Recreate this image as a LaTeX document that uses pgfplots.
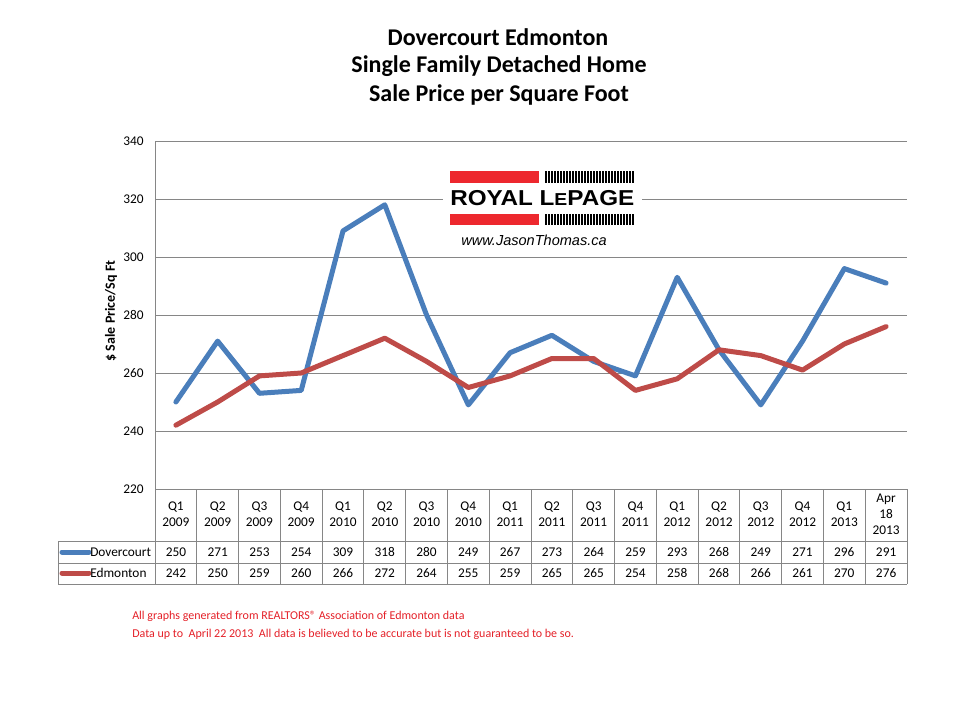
\documentclass[border=0pt]{standalone}
\usepackage{graphicx}
\usepackage{pgfplots}
\pgfplotsset{compat=1.18}
\usepackage{fontspec}
\setmainfont{Carlito}
\newfontfamily\arialfont{Liberation Sans}
\definecolor{dblue}{RGB}{74,126,187}
\definecolor{dred}{RGB}{190,75,72}
\definecolor{gridgray}{RGB}{134,134,134}
\definecolor{fnred}{RGB}{228,32,40}
\definecolor{logored}{RGB}{237,40,46}
\begin{document}
\begin{tikzpicture}
\begin{scope}[x=0.75pt,y=-0.75pt]
\path[use as bounding box] (0,0) rectangle (960,720);
\end{scope}
\begin{axis}[at={(116.25pt,-366.75pt)}, anchor=south west, scale only axis,
  width=564pt, height=261pt, xmin=-0.5, xmax=17.5, ymin=220, ymax=340,
  ytick={220,240,...,340}, xtick=\empty, ymajorgrids,
  grid style={gridgray, line width=0.75pt},
  axis x line=bottom, axis y line=left,
  axis line style={-, gridgray, line width=0.75pt},
  major tick length=0pt,
  yticklabel style={font=\fontsize{10}{12}\selectfont, xshift=-5pt},
  /pgf/number format/assume math mode=true, clip=false]
\addplot[dblue, line width=3.75pt, line join=round, line cap=round] coordinates {
(0,250) (1,271) (2,253) (3,254) (4,309) (5,318) (6,280) (7,249) (8,267)
(9,273) (10,264) (11,259) (12,293) (13,268) (14,249) (15,271) (16,296) (17,291)};
\addplot[dred, line width=3.75pt, line join=round, line cap=round] coordinates {
(0,242) (1,250) (2,259) (3,260) (4,266) (5,272) (6,264) (7,255) (8,259)
(9,265) (10,265) (11,254) (12,258) (13,268) (14,266) (15,261) (16,270) (17,276)};
\end{axis}
\begin{scope}[x=0.75pt,y=-0.75pt]
% titles
\node[font=\bfseries\fontsize{18}{20}\selectfont] at (498,37) {Dovercourt Edmonton};
\node[font=\bfseries\fontsize{18}{20}\selectfont] at (499,66) {Single Family Detached Home};
\node[font=\bfseries\fontsize{18}{20}\selectfont] at (499,95) {Sale Price per Square Foot};
% y label
\node[font=\bfseries\fontsize{10.5}{12}\selectfont, rotate=90] at (111,311) {\$ Sale Price/Sq Ft};
% logo
\fill[white] (443,163) rectangle (642,252);
\fill[logored] (450,171) rectangle (539,183);
\fill[logored] (450,214) rectangle (539,225);
\foreach \i in {0,...,29} {
  \fill[black] (545+\i*3,171) rectangle ++(1.6,12);
  \fill[black] (545+\i*3,214) rectangle ++(1.6,11);
}
\node[anchor=south west, inner sep=0pt] at (450,206) {\resizebox{138pt}{11.3pt}{\arialfont\bfseries ROYAL L{\fontsize{8}{9}\selectfont E}PAGE}};
\node[font=\arialfont\itshape\fontsize{10.9}{13}\selectfont] at (534,240) {www.JasonThomas.ca};
% table grid
\draw[gridgray, line width=0.75pt] (155,489) -- (155,584);
\foreach \k in {1,...,18} {
  \draw[gridgray, line width=0.75pt] ({155+\k*41.778},489) -- ({155+\k*41.778},584);
}
\draw[gridgray, line width=0.75pt] (58,541) -- (907,541);
\draw[gridgray, line width=0.75pt] (58,563) -- (907,563);
\draw[gridgray, line width=0.75pt] (58,584) -- (907,584);
\draw[gridgray, line width=0.75pt] (58,541) -- (58,584);
% legend samples
\draw[dblue, line width=3.75pt, line cap=round] (62,552) -- (89,552);
\draw[dred, line width=3.75pt, line cap=round] (62,573) -- (89,573);
\node[anchor=west, inner sep=0pt, font=\fontsize{10}{12}\selectfont] at (90,552) {Dovercourt};
\node[anchor=west, inner sep=0pt, font=\fontsize{10}{12}\selectfont] at (90,573) {Edmonton};
% header labels
\foreach \lab [count=\k from 0] in {Q1\\2009,Q2\\2009,Q3\\2009,Q4\\2009,Q1\\2010,Q2\\2010,Q3\\2010,Q4\\2010,Q1\\2011,Q2\\2011,Q3\\2011,Q4\\2011,Q1\\2012,Q2\\2012,Q3\\2012,Q4\\2012,Q1\\2013,Apr\\18\\2013} {
  \node[align=center, font=\fontsize{10}{12}\selectfont, inner sep=0pt] at ({155+(\k+0.5)*41.778},514) {\lab};
}
\foreach \v [count=\k from 0] in {250,271,253,254,309,318,280,249,267,273,264,259,293,268,249,271,296,291} {
  \node[font=\fontsize{10}{12}\selectfont, inner sep=0pt] at ({155+(\k+0.5)*41.778},552) {\v};
}
\foreach \v [count=\k from 0] in {242,250,259,260,266,272,264,255,259,265,265,254,258,268,266,261,270,276} {
  \node[font=\fontsize{10}{12}\selectfont, inner sep=0pt] at ({155+(\k+0.5)*41.778},573) {\v};
}
% footnote
\node[anchor=west, inner sep=0pt, text=fnred, font=\fontsize{9}{11}\selectfont] at (132,616) {All graphs generated from REALTORS® Association of Edmonton data};
\node[anchor=west, inner sep=0pt, text=fnred, font=\fontsize{9}{11}\selectfont] at (132,634) {Data up to\ \ April 22 2013\ \ All data is believed to be accurate but is not guaranteed to be so.};
\end{scope}
\end{tikzpicture}
\end{document}
